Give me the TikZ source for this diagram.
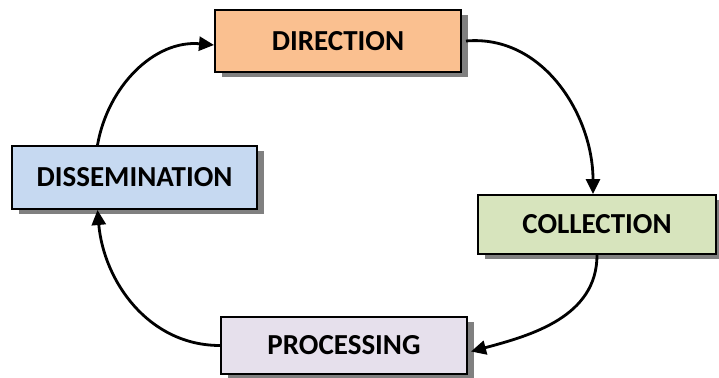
\documentclass[tikz,border=0pt]{standalone}
\usepackage{fontspec}
\setmainfont{Carlito}
\usepackage{tikz}
\usetikzlibrary{calc}
\usetikzlibrary{shapes}
\usetikzlibrary{shadows}
\usetikzlibrary{arrows.meta}
\definecolor{dirfill}{RGB}{250,192,144}
\definecolor{colfill}{RGB}{215,228,189}
\definecolor{profill}{RGB}{230,224,236}
\definecolor{disfill}{RGB}{198,217,241}
\definecolor{shadowgray}{RGB}{128,128,128}

\begin{document}
\begin{tikzpicture}[x=1pt, y=-1pt,
    stage/.style={draw=black, line width=2pt, inner sep=0pt,
      font=\fontsize{29}{33}\selectfont\bfseries,
      drop shadow={shadow xshift=7pt, shadow yshift=-5pt, fill=shadowgray, opacity=1}},
    cycle/.style={line width=2.8pt, -{Triangle[length=15pt,width=14pt]}}]
  \useasboundingbox (0,0) rectangle (719,377);
  \node[stage, fill=dirfill, minimum width=246pt, minimum height=62pt] (direction) at (338,41) {DIRECTION};
  \node[stage, fill=colfill, minimum width=238pt, minimum height=59pt] (collection) at (597,224.5) {COLLECTION};
  \node[stage, fill=profill, minimum width=246pt, minimum height=57pt] (processing) at (344,345.5) {PROCESSING};
  \node[stage, fill=disfill, minimum width=245pt, minimum height=63pt] (dissemination) at (134.5,177.5) {DISSEMINATION};

  \draw[cycle] ([xshift=-37pt]dissemination.north) to[out=80, in=175] ([yshift=-4pt]direction.west);
  \draw[cycle] ([xshift=4pt]direction.east) to[out=5, in=90] ([xshift=-4pt]collection.north);
  \draw[cycle] (collection.south) to[out=-90, in=15] ([xshift=3pt, yshift=-6pt]processing.east);
  \draw[cycle] (processing.west) to[out=180, in=-85] ([xshift=-37pt]dissemination.south);
\end{tikzpicture}
\end{document}
